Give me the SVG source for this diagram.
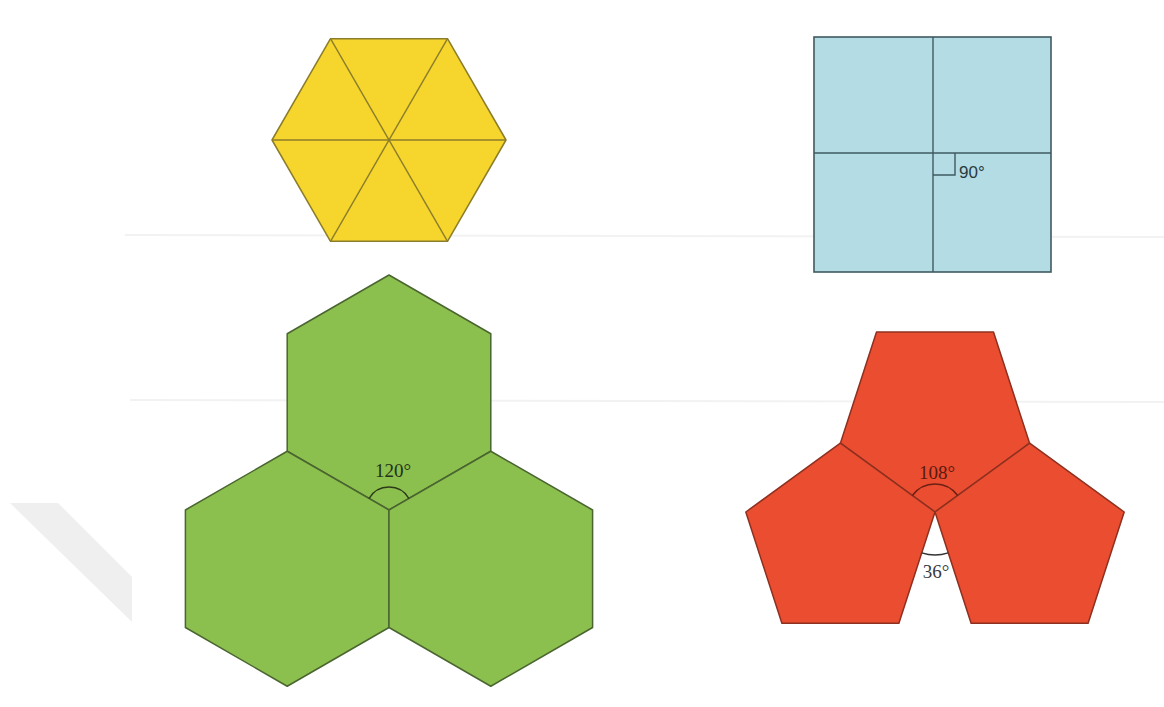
<svg xmlns="http://www.w3.org/2000/svg" width="1164" height="707" viewBox="0 0 1164 707">
<style>
.yel{fill:#f6d62c;stroke:#8c7d2a;stroke-width:1.5;stroke-linejoin:round}
.yl{stroke:#8c7d2a;stroke-width:1.4;fill:none}
.blu{fill:#b3dce4;stroke:#3f5a60;stroke-width:1.6}
.bl{stroke:#3f5a60;stroke-width:1.4;fill:none}
.grn{fill:#8cc04e;stroke:#4a6530;stroke-width:1.5;stroke-linejoin:round}
.red{fill:#ea4d2f;stroke:#8e3020;stroke-width:1.5;stroke-linejoin:round}
.arcG{fill:none;stroke:#2c3a1a;stroke-width:1.5}
.arcR{fill:none;stroke:#6a2014;stroke-width:1.5}
.lab{font-family:"Liberation Serif","DejaVu Serif",serif;font-size:19px}
.labs{font-family:"Liberation Sans","DejaVu Sans",sans-serif;font-size:17px}
</style>
<rect width="1164" height="707" fill="#ffffff"/>
<g id="background">
<polygon points="10,503 58,503 132,577 132,622" fill="#efefef"/>
<line x1="125" y1="235" x2="1164" y2="237" stroke="#f2f2f2" stroke-width="2"/>
<line x1="130" y1="400" x2="1164" y2="402" stroke="#f2f2f2" stroke-width="2"/>
</g>
<g id="yellow-hexagon">
<polygon class="yel" points="506,140 447.5,241.3 330.5,241.3 272,140 330.5,38.7 447.5,38.7"/>
<line class="yl" x1="272" y1="140" x2="506" y2="140"/>
<line class="yl" x1="330.5" y1="38.7" x2="447.5" y2="241.3"/>
<line class="yl" x1="447.5" y1="38.7" x2="330.5" y2="241.3"/>
</g>
<g id="blue-square">
<rect class="blu" x="814" y="37" width="237" height="235"/>
<line class="bl" x1="933" y1="37" x2="933" y2="272"/>
<line class="bl" x1="814" y1="153" x2="1051" y2="153"/>
<path class="bl" d="M933,175 H955 V153"/>
<text class="labs" x="959" y="178" fill="#2a3a3e">90°</text>
</g>
<g id="green-hexagons">
<polygon class="grn" points="389,275 490.8,333.75 490.8,451.25 389,510 287.2,451.25 287.2,333.75"/>
<polygon class="grn" points="287.2,451.25 389,510 389,627.5 287.2,686.25 185.4,627.5 185.4,510"/>
<polygon class="grn" points="490.8,451.25 592.6,510 592.6,627.5 490.8,686.25 389,627.5 389,510"/>
<path class="arcG" d="M369.08,498.5 A23,23 0 0,1 408.92,498.5"/>
<text class="lab" x="393" y="477" text-anchor="middle" fill="#22301a">120°</text>
</g>
<g id="red-pentagons">
<polygon class="red" points="876.5,332 993.5,332 1029.6,443.2 935,512 840.4,443.2"/>
<polygon class="red" points="840.4,443.2 935,512 898.9,623.2 781.9,623.2 745.8,512"/>
<polygon class="red" points="1029.6,443.2 1124.2,512 1088.1,623.2 971.1,623.2 935,512"/>
<path class="arcR" d="M912.35,495.54 A28,28 0 0,1 957.65,495.54"/>
<text class="lab" x="937" y="479" text-anchor="middle" fill="#5a1a10">108°</text>
<path d="M921.71,552.9 A43,43 0 0,0 948.29,552.9" fill="none" stroke="#333" stroke-width="1.4"/>
<text class="lab" x="936" y="578" text-anchor="middle" fill="#3a3a3a">36°</text>
</g>
</svg>
